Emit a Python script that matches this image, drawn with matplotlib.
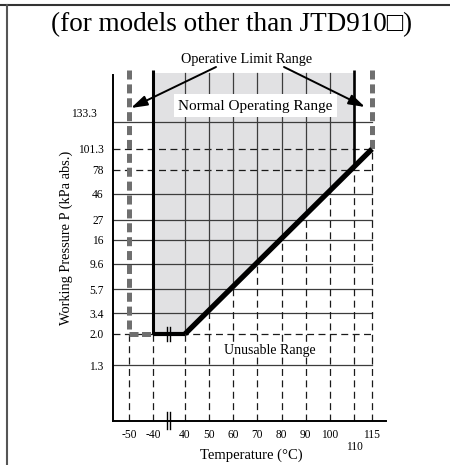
import numpy as np
import matplotlib
matplotlib.use("Agg")
import matplotlib.pyplot as plt
from matplotlib.patches import Rectangle, Polygon
from matplotlib.lines import Line2D
from matplotlib.transforms import IdentityTransform, blended_transform_factory

plt.rcParams['font.family'] = ['Liberation Serif', 'DejaVu Sans']
plt.rcParams['lines.scale_dashes'] = False

# ---------------- data ----------------
TEMPS = [-50, -40, 40, 50, 60, 70, 80, 90, 100, 110, 115]
TEMP_LABELS = ['-50', '-40', '40', '50', '60', '70', '80', '90', '100', '110', '115']
PRESSURES = [1.3, 2.0, 3.4, 5.7, 9.6, 16, 27, 46, 78, 101.3, 133.3]
PRESSURE_LABELS = ['1.3', '2.0', '3.4', '5.7', '9.6', '16', '27', '46', '78', '101.3', '133.3']
DASHED_PRESSURES = [2.0, 78, 101.3]
LIMIT_T = (-50, 115)          # operative limit range (temperature)
NORMAL_T = (-40, 110)         # normal operating range (temperature)
P_MIN = 2.0                   # minimum working pressure
KNEE = (40, 2.0)              # start of the boundary slope
LIMIT_END = (115, 101.3)      # end of the boundary slope

# ---------------- layout (schematic, non-uniform axes) ----------------
W, H = 450, 465
X_ANCH_T = [-50, -40, 40, 110, 115]
X_ANCH_PX = [129, 153, 185, 354, 372]
Y_ANCH_PX = [365, 334, 313, 289, 264, 240, 220, 194, 170, 149, 122]
AX_L, AX_R, AX_B, AX_T = 113, 386, 421, 65
TICK_FS = 8.3


def pw(v, xs, ys):
    xs = np.asarray(xs, float)
    ys = np.asarray(ys, float)
    v = np.asarray(v, float)
    out = np.interp(v, xs, ys)
    lo_s = (ys[1] - ys[0]) / (xs[1] - xs[0])
    hi_s = (ys[-1] - ys[-2]) / (xs[-1] - xs[-2])
    out = np.where(v < xs[0], ys[0] + (v - xs[0]) * lo_s, out)
    out = np.where(v > xs[-1], ys[-1] + (v - xs[-1]) * hi_s, out)
    return out


XPX = np.array(X_ANCH_PX, float)
YPX = -np.array(Y_ANCH_PX, float)
fx = lambda t: pw(t, X_ANCH_T, XPX)
ix = lambda p: pw(p, XPX, X_ANCH_T)
fy = lambda p: pw(p, PRESSURES, YPX)
iy = lambda q: pw(q, YPX, PRESSURES)

fig = plt.figure(figsize=(W / 100, H / 100), dpi=100)
ax = fig.add_axes([AX_L / W, 1 - AX_B / H, (AX_R - AX_L) / W, (AX_B - AX_T) / H])
ax.set_xscale('function', functions=(fx, ix))
ax.set_yscale('function', functions=(fy, iy))
x_lo, x_hi = float(ix(AX_L)), float(ix(AX_R))
y_lo, y_hi = float(iy(-AX_B)), float(iy(-AX_T))
ax.set_xlim(x_lo, x_hi)
ax.set_ylim(y_lo, y_hi)
ax.set_xticks([])
ax.set_yticks([])
ax.minorticks_off()
for s in ('top', 'right'):
    ax.spines[s].set_visible(False)
ax.spines['left'].set_bounds(y_lo, float(iy(-75)))
ax.spines['left'].set_linewidth(1.4)
ax.spines['bottom'].set_linewidth(1.4)

TOP = float(iy(-73))
TOP_LIM = float(iy(-70))


def diag_p(t):
    x0, y0 = fx(KNEE[0]), fy(KNEE[1])
    x1, y1 = fx(LIMIT_END[0]), fy(LIMIT_END[1])
    q = y0 + (fx(t) - x0) * (y1 - y0) / (x1 - x0)
    return float(iy(q))


GRID = '#3c3c3c'
DASH = (0, (5, 3.2))
THIN = 0.9

# shaded normal operating range
poly = Polygon([(NORMAL_T[0], TOP), (NORMAL_T[0], P_MIN), KNEE,
                (NORMAL_T[1], diag_p(NORMAL_T[1])), (NORMAL_T[1], TOP)],
               closed=True, facecolor='#e1e1e3', edgecolor='none', zorder=0)
ax.add_patch(poly)

# horizontal grid lines
for p in PRESSURES:
    ls = DASH if p in DASHED_PRESSURES else '-'
    ax.plot([x_lo, LIMIT_T[1]], [p, p], color=GRID if ls == '-' else '#1a1a1a',
            lw=THIN, linestyle=ls, zorder=1)

# vertical grid lines
for t in TEMPS:
    if t in (LIMIT_T[0], NORMAL_T[0], KNEE[0]):
        split = P_MIN
    elif t == LIMIT_T[1]:
        split = LIMIT_END[1]
    else:
        split = diag_p(t)
    ax.plot([t, t], [y_lo, split], color='#1a1a1a', lw=THIN, linestyle=DASH, zorder=1)
    if t not in LIMIT_T and t not in NORMAL_T:
        ax.plot([t, t], [split, TOP], color=GRID, lw=THIN, zorder=1)

# thick boundaries
GRAY = '#6f6f6f'
gdash = (0, (6.5, 3.5))
ax.plot([LIMIT_T[0], LIMIT_T[0]], [TOP_LIM, P_MIN], color=GRAY, lw=3.6,
        linestyle=gdash, solid_capstyle='butt', dash_capstyle='butt', zorder=4)
ax.plot([LIMIT_T[0], NORMAL_T[0]], [P_MIN, P_MIN], color=GRAY, lw=3.6,
        linestyle=(0, (6.5, 2.5)), dash_capstyle='butt', zorder=4)
ax.plot([LIMIT_T[1], LIMIT_T[1]], [TOP_LIM, LIMIT_END[1]], color=GRAY, lw=3.6,
        linestyle=gdash, dash_capstyle='butt', zorder=4)
ax.plot([NORMAL_T[0], NORMAL_T[0]], [TOP_LIM, P_MIN], color='black', lw=2.2,
        solid_capstyle='butt', zorder=4)
ax.plot([NORMAL_T[1], NORMAL_T[1]], [TOP_LIM, diag_p(NORMAL_T[1])], color='black',
        lw=1.9, solid_capstyle='butt', zorder=4)
ax.plot([NORMAL_T[0], KNEE[0]], [P_MIN, P_MIN], color='black', lw=3.0,
        solid_capstyle='butt', zorder=4)
ax.plot([KNEE[0], LIMIT_END[0]], [KNEE[1], LIMIT_END[1]], color='black', lw=3.8,
        solid_capstyle='butt', zorder=4)

# break marks
disp = IdentityTransform()
for bx in (166.8, 170.3):
    ax.add_line(Line2D([bx, bx], [H - 327, H - 341], color='black', lw=1.0,
                       transform=disp, clip_on=False, zorder=5))
    ax.add_line(Line2D([bx, bx], [H - 412, H - 429], color='black', lw=1.0,
                       transform=disp, clip_on=False, zorder=5))


def fp(x, y):
    return (x / W, 1 - y / H)


# tick labels
xb = blended_transform_factory(ax.transData, disp)
for t, lab in zip(TEMPS, TEMP_LABELS):
    yy = 447 if lab == '110' else 435
    ax.text(t, H - yy, lab, transform=xb, ha='center', va='center', fontsize=TICK_FS,
            clip_on=False)
yb = blended_transform_factory(disp, ax.transData)
for p, lab in zip(PRESSURES, PRESSURE_LABELS):
    if lab == '133.3':
        ax.text(97, float(iy(-114)), lab, transform=yb, ha='right', va='center',
                fontsize=TICK_FS, clip_on=False)
    else:
        ax.text(103.5, float(iy(fy(p) - 1.5)), lab, transform=yb, ha='right',
                va='center', fontsize=TICK_FS, clip_on=False)

# axis titles
fig.text(*fp(251, 455), 'Temperature (°C)', ha='center', va='center', fontsize=10.5)
fig.text(*fp(66, 238), 'Working Pressure P (kPa abs.)', ha='center', va='center',
         rotation=90, fontsize=10.4)

# annotations
box = Rectangle(fp(174, 117), (337 - 174) / W, (117 - 94) / H, transform=fig.transFigure,
                facecolor='white', edgecolor='none', zorder=2, clip_on=False)
ax.add_patch(box)
ax.text(*fp(255.5, 106), 'Normal Operating Range', transform=fig.transFigure,
        ha='center', va='center', fontsize=11, zorder=3)
ax.text(*fp(270, 350), 'Unusable Range', transform=fig.transFigure, ha='center',
        va='center', fontsize=10, zorder=3,
        bbox=dict(boxstyle='square,pad=0.05', facecolor='white', edgecolor='none'))
fig.text(*fp(247, 59), 'Operative Limit Range', ha='center', va='center', fontsize=10.3)
aprops = dict(arrowstyle='-|>,head_length=0.7,head_width=0.22', lw=1.4, color='black',
              mutation_scale=14, shrinkA=0, shrinkB=0)
ax.annotate('', xy=fp(131, 108), xytext=fp(216, 67), xycoords='figure fraction',
            textcoords='figure fraction', arrowprops=aprops, zorder=6)
ax.annotate('', xy=fp(365, 107), xytext=fp(284, 67), xycoords='figure fraction',
            textcoords='figure fraction', arrowprops=aprops, zorder=6)

# title and frame
fig.text(*fp(232, 25), '(for models other than JTD910□)', ha='center', va='center',
         fontsize=19.5)
fig.add_artist(Line2D([0, 1], [1 - 5 / H, 1 - 5 / H], color='#333333', lw=1.5,
                      transform=fig.transFigure))
fig.add_artist(Line2D([7 / W, 7 / W], [0, 1 - 5 / H], color='#555555', lw=1.5,
                      transform=fig.transFigure))

fig.savefig('out.png', dpi=100)
